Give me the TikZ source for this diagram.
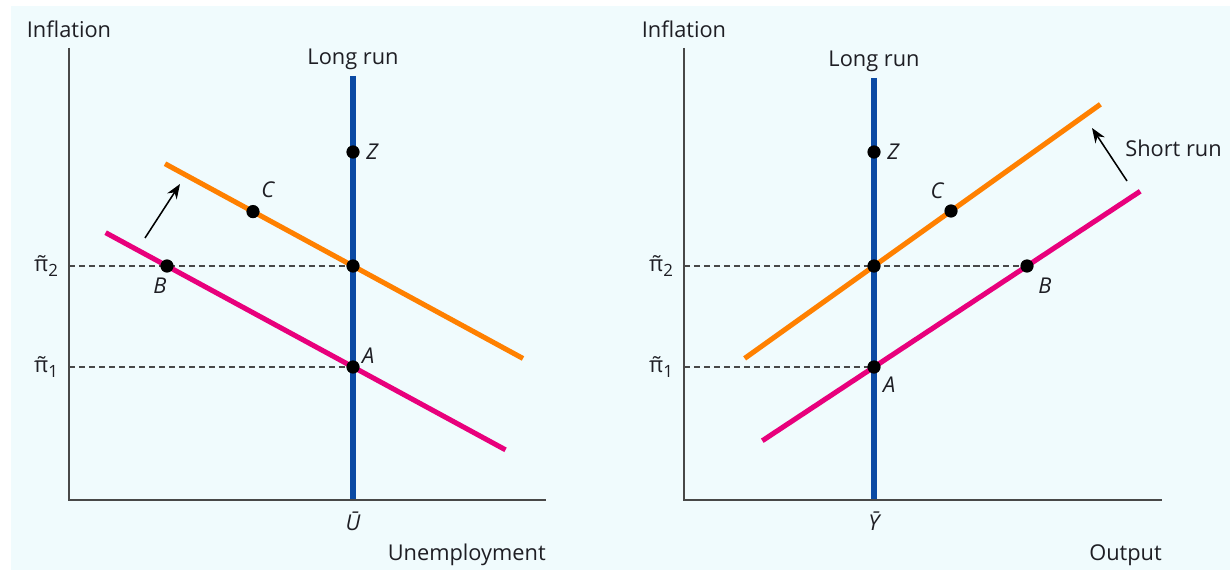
\documentclass[tikz,border=0pt]{standalone}
\usepackage{fontspec}
\setmainfont{Open Sans}
\usetikzlibrary{arrows.meta,positioning,calc}
\definecolor{bgcolor}{RGB}{240,251,253}
\definecolor{lrcolor}{RGB}{10,74,164}
\definecolor{oldcolor}{RGB}{232,0,124}
\definecolor{newcolor}{RGB}{255,128,0}
\definecolor{axcolor}{RGB}{72,72,72}
\definecolor{txtcolor}{RGB}{30,30,36}
\tikzset{
  axisln/.style={line width=1.2pt, axcolor},
  lrline/.style={line width=4.5pt, lrcolor},
  srline/.style={line width=3.6pt},
  projln/.style={dash pattern=on 4.3pt off 2.8pt, line width=0.9pt, axcolor},
  shiftarr/.style={-{Stealth[length=10.5pt,width=8pt]}, line width=1.1pt},
  lab/.style={font=\fontsize{15.5}{18}\selectfont, text=txtcolor, inner sep=0pt},
  ptlab/.style={lab, font=\fontsize{15.5}{18}\selectfont\itshape},
}
\newcommand{\ptdot}[1]{%
  \fill[black] #1 circle (4.7pt);
}
\newcommand{\pilab}[1]{π̃\raisebox{-0.35ex}{\fontsize{12}{12}\selectfont #1}}

\begin{document}
\begin{tikzpicture}
  \useasboundingbox (0,0) rectangle (30.75,14.25);
  \fill[bgcolor] (0.275,0) rectangle (30.75,14.1);

  % left panel: inflation vs unemployment
  \coordinate (lO) at (1.725,1.75);
  \coordinate (lY) at (1.725,13.05);
  \coordinate (lX) at (13.65,1.75);
  \coordinate (lLRtop) at (8.825,12.35);
  \coordinate (lLRbot) at (8.825,1.75);
  \coordinate (lP2) at (1.725,7.6);
  \coordinate (lP1) at (1.725,5.075);
  \coordinate (lZ) at (8.825,10.45);
  \coordinate (lM) at (8.825,7.6);
  \coordinate (lA) at (8.825,5.075);
  \coordinate (lB) at (4.175,7.6);
  \coordinate (lC) at (6.325,8.96);
  \coordinate (lArrT) at (3.625,8.3);
  \coordinate (lArrH) at (4.5,9.65);

  \draw[projln] (lP2) -- (lM);
  \draw[projln] (lP1) -- (lA);
  \draw[srline, oldcolor] ($(lB)!-0.33!(lA)$) -- ($(lB)!1.82!(lA)$);
  \draw[srline, newcolor] ($(lC)!-0.88!(lM)$) -- ($(lC)!2.70!(lM)$);
  \draw[lrline] (lLRtop) -- (lLRbot);
  \draw[axisln] (lY) -- (lO) -- (lX);
  \draw[shiftarr] (lArrT) -- (lArrH);
  \foreach \p in {lZ,lM,lA,lB,lC} {
    \ptdot{(\p)}
  }

  \node[lab, above=0.25cm of lY] (lInfl) {Inflation};
  \node[lab, above=0.16cm of lLRtop] (lLR) {Long run};
  \node[ptlab, below=0.3cm of lLRbot] (lUbar) {\=U};
  \node[lab, below left=1.1cm and 0cm of lX] (lXlab) {Unemployment};
  \node[lab, left=0.27cm of lP2] (lP2lab) {\pilab{2}};
  \node[lab, left=0.27cm of lP1] (lP1lab) {\pilab{1}};
  \node[ptlab, right=0.33cm of lZ] (lZlab) {Z};
  \node[ptlab, above right=0.33cm and 0.2cm of lC] (lClab) {C};
  \node[ptlab, below=0.3cm of lB, xshift=-0.18cm] (lBlab) {B};
  \node[ptlab, above right=0.08cm and 0.22cm of lA] (lAlab) {A};

  % right panel: inflation vs output
  \coordinate (rO) at (17.1,1.75);
  \coordinate (rY) at (17.1,13.05);
  \coordinate (rX) at (29.05,1.75);
  \coordinate (rLRtop) at (21.85,12.3);
  \coordinate (rLRbot) at (21.85,1.75);
  \coordinate (rP2) at (17.1,7.6);
  \coordinate (rP1) at (17.1,5.075);
  \coordinate (rZ) at (21.85,10.45);
  \coordinate (rM) at (21.85,7.6);
  \coordinate (rA) at (21.85,5.075);
  \coordinate (rB) at (25.675,7.6);
  \coordinate (rC) at (23.775,8.975);
  \coordinate (rArrT) at (28.175,9.725);
  \coordinate (rArrH) at (27.3,11.05);

  \draw[projln] (rP2) -- (rB);
  \draw[projln] (rP1) -- (rA);
  \draw[srline, oldcolor] ($(rA)!-0.73!(rB)$) -- ($(rA)!1.74!(rB)$);
  \draw[srline, newcolor] ($(rM)!-1.68!(rC)$) -- ($(rM)!2.94!(rC)$);
  \draw[lrline] (rLRtop) -- (rLRbot);
  \draw[axisln] (rY) -- (rO) -- (rX);
  \draw[shiftarr] (rArrT) -- (rArrH);
  \foreach \p in {rZ,rM,rA,rB,rC} {
    \ptdot{(\p)}
  }

  \node[lab, above=0.25cm of rY] (rInfl) {Inflation};
  \node[lab, above=0.16cm of rLRtop] (rLR) {Long run};
  \node[ptlab, below=0.3cm of rLRbot] (rYbar) {\=Y};
  \node[lab, below left=1.1cm and 0cm of rX] (rXlab) {Output};
  \node[lab, left=0.27cm of rP2] (rP2lab) {\pilab{2}};
  \node[lab, left=0.27cm of rP1] (rP1lab) {\pilab{1}};
  \node[ptlab, right=0.33cm of rZ] (rZlab) {Z};
  \node[ptlab, above left=0.3cm and 0.18cm of rC] (rClab) {C};
  \node[ptlab, below right=0.28cm and 0.28cm of rB] (rBlab) {B};
  \node[ptlab, below right=0.24cm and 0.22cm of rA] (rAlab) {A};
  \node[lab, above right=0.6cm and -0.05cm of rArrT] (rSR) {Short run};
\end{tikzpicture}
\end{document}
